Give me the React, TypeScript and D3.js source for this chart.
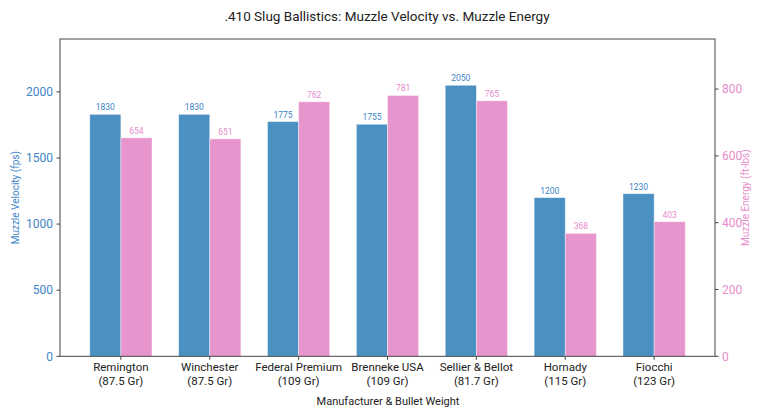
import React from "react";
import * as d3 from "d3";

const categories = [
  ["Remington", "(87.5 Gr)"],
  ["Winchester", "(87.5 Gr)"],
  ["Federal Premium", "(109 Gr)"],
  ["Brenneke USA", "(109 Gr)"],
  ["Sellier & Bellot", "(81.7 Gr)"],
  ["Hornady", "(115 Gr)"],
  ["Fiocchi", "(123 Gr)"],
];
const velocity = [1830, 1830, 1775, 1755, 2050, 1200, 1230];
const energy = [654, 651, 762, 781, 765, 368, 403];
const velocityTicks = [0, 500, 1000, 1500, 2000];
const energyTicks = [0, 200, 400, 600, 800];

const W = 768;
const H = 419;
const M = { left: 60, right: 715, top: 39, bottom: 356.3 };
const BLUE = "#4a90c2";
const PINK = "#e795cd";
const BLUE_TEXT = "#3d85c6";
const PINK_TEXT = "#e68ccb";
const FONT = "Roboto, 'Open Sans', sans-serif";

export default function App() {
  const n = categories.length;
  const bw = 0.35;
  const x = d3.scaleLinear().domain([-0.685, n - 1 + 0.685]).range([M.left, M.right]);
  const yL = d3.scaleLinear().domain([0, 2400]).range([M.bottom, M.top]);
  const yR = d3.scaleLinear().domain([0, 950]).range([M.bottom, M.top]);
  const px = (v: number) => x(v) - x(0);

  return (
    <svg width={W} height={H} style={{ display: "block", position: "absolute", left: 0, top: 0 }} fontFamily={FONT}>
      <rect width={W} height={H} fill="#fff" />
      <text x={387} y={21} textAnchor="middle" fontSize={13.5} fill="#222">
        .410 Slug Ballistics: Muzzle Velocity vs. Muzzle Energy
      </text>
      {velocity.map((v, i) => (
        <g key={"v" + i}>
          <rect x={x(i - bw)} y={yL(v)} width={px(bw)} height={M.bottom - yL(v)} fill={BLUE} stroke="#ffffff" strokeOpacity={0.5} strokeWidth={0.8} />
          <text x={x(i - bw / 2)} y={yL(v) - 4} textAnchor="middle" fontSize={8.5} fill={BLUE_TEXT}>{v}</text>
        </g>
      ))}
      {energy.map((v, i) => (
        <g key={"e" + i}>
          <rect x={x(i)} y={yR(v)} width={px(bw)} height={M.bottom - yR(v)} fill={PINK} stroke="#ffffff" strokeOpacity={0.5} strokeWidth={0.8} />
          <text x={x(i + bw / 2)} y={yR(v) - 4} textAnchor="middle" fontSize={8.5} fill={PINK_TEXT}>{v}</text>
        </g>
      ))}
      <rect x={M.left} y={M.top} width={M.right - M.left} height={M.bottom - M.top} fill="none" stroke="#444" strokeWidth={1} />
      {velocityTicks.map((t) => (
        <g key={"lt" + t}>
          <line x1={M.left - 3.5} x2={M.left} y1={yL(t)} y2={yL(t)} stroke="#444" />
          <text x={M.left - 7} y={yL(t)} dy="0.35em" textAnchor="end" fontSize={12} fill={BLUE_TEXT}>{t}</text>
        </g>
      ))}
      {energyTicks.map((t) => (
        <g key={"rt" + t}>
          <line x1={M.right} x2={M.right + 3.5} y1={yR(t)} y2={yR(t)} stroke="#444" />
          <text x={M.right + 7} y={yR(t)} dy="0.35em" textAnchor="start" fontSize={12} fill={PINK_TEXT}>{t}</text>
        </g>
      ))}
      {categories.map((c, i) => (
        <g key={"x" + i}>
          <line x1={x(i)} x2={x(i)} y1={M.bottom} y2={M.bottom + 3.5} stroke="#444" />
          <text x={x(i)} y={371} textAnchor="middle" fontSize={11.5} fill="#222">{c[0]}</text>
          <text x={x(i)} y={384.5} textAnchor="middle" fontSize={11.5} fill="#222">{c[1]}</text>
        </g>
      ))}
      <text x={388} y={405} textAnchor="middle" fontSize={11} fill="#222">Manufacturer &amp; Bullet Weight</text>
      <text transform={`translate(19,${(M.top + M.bottom) / 2}) rotate(-90)`} textAnchor="middle" fontSize={10} fill={BLUE_TEXT}>Muzzle Velocity (fps)</text>
      <text transform={`translate(749,${(M.top + M.bottom) / 2}) rotate(-90)`} textAnchor="middle" fontSize={10} fill={PINK_TEXT}>Muzzle Energy (ft-lbs)</text>
    </svg>
  );
}
